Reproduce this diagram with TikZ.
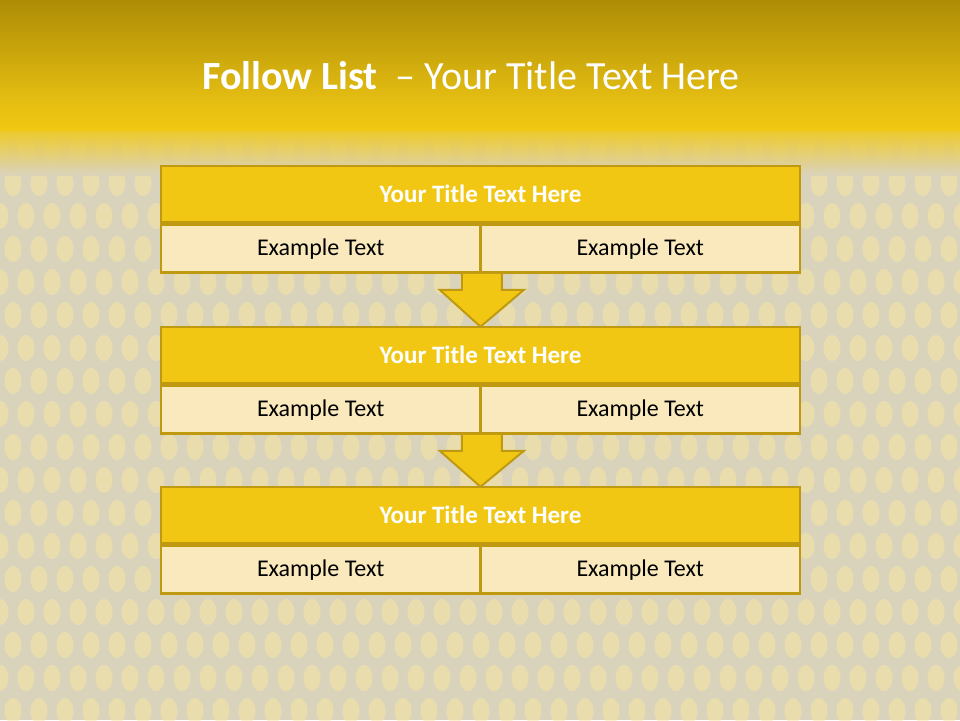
\documentclass[tikz,border=0pt]{standalone}
\usepackage{fontspec}
\setmainfont{Carlito}
\usetikzlibrary{calc}
\definecolor{bordergold}{HTML}{BF9A10}
\definecolor{titlefill}{HTML}{F2C714}
\definecolor{exfill}{HTML}{FAE9BC}
\definecolor{bgbase}{HTML}{DAD3BC}
\definecolor{bokeh}{HTML}{F7E7A4}
\definecolor{topdark}{HTML}{AE8C06}
\definecolor{topmid}{HTML}{E4BE12}
\definecolor{topbright}{HTML}{F1C812}
\tikzset{
  titlebox/.style={draw=bordergold, line width=2.6pt, fill=titlefill, minimum width=639pt, minimum height=56pt, inner sep=0pt, text=white, font=\fontsize{25}{28}\selectfont\bfseries},
  exbox/.style={draw=bordergold, line width=2.6pt, fill=exfill, minimum width=319.5pt, minimum height=48pt, inner sep=0pt, text=black, font=\fontsize{24}{28}\selectfont},
  downarrow/.style={draw=bordergold, line width=2pt, fill=titlefill, line join=miter},
  bokehdot/.style={fill=bokeh, fill opacity=0.55, draw=none}
}
\begin{document}
\begin{tikzpicture}[x=1pt,y=-1pt]
\useasboundingbox (0,0) rectangle (960,720);
% background
\fill[bgbase] (0,0) rectangle (960,720);
\foreach \r in {0,...,17}{
  \foreach \c in {0,...,37}{
    \pgfmathsetmacro{\xx}{\c*26 + mod(\r,2)*13}
    \pgfmathsetmacro{\yy}{150 + \r*33}
    \fill[bokehdot] (\xx,\yy) ellipse (8.5 and 13);
  }
}
\shade[top color=topdark, bottom color=topmid] (0,0) rectangle (960,100);
\shade[top color=topmid, bottom color=topbright] (0,100) rectangle (960,130);
\shade[top color=topbright, bottom color=bgbase, opacity=0.85] (0,130) rectangle (960,175);
% title
\node[text=white, font=\fontsize{40}{44}\selectfont, anchor=center] (title) at (471,76) {\textbf{Follow List}\ \ – Your Title Text Here};
% group 1
\node[titlebox] (t1) at (480.5,194) {Your Title Text Here};
\node[exbox, anchor=north west] (e1a) at (t1.south west) {Example Text};
\node[exbox, anchor=north east] (e1b) at (t1.south east) {Example Text};
% group 2
\node[titlebox] (t2) at (480.5,355) {Your Title Text Here};
\node[exbox, anchor=north west] (e2a) at (t2.south west) {Example Text};
\node[exbox, anchor=north east] (e2b) at (t2.south east) {Example Text};
% group 3
\node[titlebox] (t3) at (480.5,515) {Your Title Text Here};
\node[exbox, anchor=north west] (e3a) at (t3.south west) {Example Text};
\node[exbox, anchor=north east] (e3b) at (t3.south east) {Example Text};
% arrows
\draw[downarrow] ($(e1a.south east)+(-20,0)$) -- ($(e1a.south east)+(-20,16)$) -- ($(e1a.south east)+(-42,16)$) -- ($(t2.north)+(0,1)$) -- ($(e1a.south east)+(42,16)$) -- ($(e1a.south east)+(20,16)$) -- ($(e1a.south east)+(20,0)$);
\draw[downarrow] ($(e2a.south east)+(-20,0)$) -- ($(e2a.south east)+(-20,16)$) -- ($(e2a.south east)+(-42,16)$) -- ($(t3.north)+(0,1)$) -- ($(e2a.south east)+(42,16)$) -- ($(e2a.south east)+(20,16)$) -- ($(e2a.south east)+(20,0)$);
\end{tikzpicture}
\end{document}
